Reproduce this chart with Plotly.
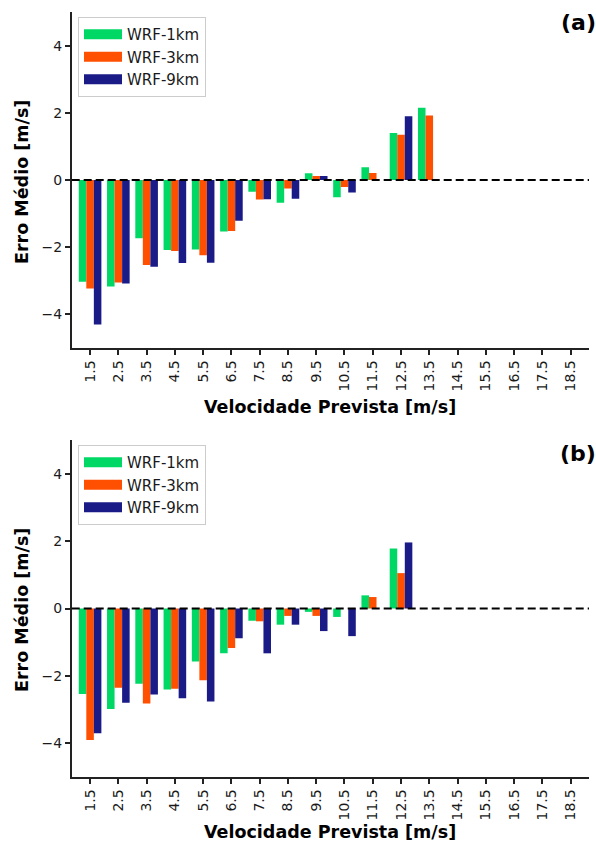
import plotly.graph_objects as go

categories = ["1.5", "2.5", "3.5", "4.5", "5.5", "6.5", "7.5", "8.5", "9.5",
              "10.5", "11.5", "12.5", "13.5", "14.5", "15.5", "16.5", "17.5", "18.5"]
series_names = ["WRF-1km", "WRF-3km", "WRF-9km"]

a_1km = [-3.03, -3.17, -1.73, -2.08, -2.07, -1.53, -0.35, -0.68, 0.20, -0.51, 0.38, 1.40, 2.15,
         None, None, None, None, None]
a_3km = [-3.23, -3.05, -2.53, -2.11, -2.24, -1.52, -0.58, -0.25, 0.12, -0.21, 0.21, 1.35, 1.92,
         None, None, None, None, None]
a_9km = [-4.30, -3.08, -2.58, -2.47, -2.46, -1.21, -0.57, -0.56, 0.12, -0.37, None, 1.90, None,
         None, None, None, None, None]

b_1km = [-2.54, -2.98, -2.23, -2.40, -1.57, -1.33, -0.36, -0.48, -0.10, -0.25, 0.39, 1.78, None,
         None, None, None, None, None]
b_3km = [-3.90, -2.35, -2.82, -2.38, -2.13, -1.17, -0.38, -0.22, -0.22, None, 0.34, 1.05, None,
         None, None, None, None, None]
b_9km = [-3.70, -2.80, -2.55, -2.66, -2.76, -0.88, -1.33, -0.48, -0.67, -0.82, None, 1.96, None,
         None, None, None, None, None]

y_tickvals = [-4, -2, 0, 2, 4]
y_ticktext = ["\u22124", "\u22122", "0", "2", "4"]
colors = ["#00D865", "#FF4F00", "#1B1B87"]

W, H = 596, 845
FONT = "DejaVu Sans"
TXT = "#1a1a1a"

fig = go.Figure()

panels = [
    ("x", "y", "legend", [a_1km, a_3km, a_9km]),
    ("x2", "y2", "legend2", [b_1km, b_3km, b_9km]),
]
for xa, ya, lg, data in panels:
    for name, vals, col in zip(series_names, data, colors):
        fig.add_trace(go.Bar(x=categories, y=vals, name=name, marker=dict(color=col, line=dict(width=0)),
                             xaxis=xa, yaxis=ya, showlegend=False))
    for name, col in zip(series_names, colors):
        fig.add_trace(go.Scatter(x=[None], y=[None], mode="lines", name=name,
                                 line=dict(color=col, width=10), xaxis=xa, yaxis=ya,
                                 legend=lg, showlegend=True))

x0, x1 = 71.7 / W, 589 / W
dom_a = [1 - 348 / H, 1 - 12 / H]
dom_b = [1 - 777 / H, 1 - 440 / H]

xcommon = dict(type="category", range=[-0.65, 17.65], showline=True, linecolor="#222", linewidth=1.5,
               ticks="outside", ticklen=5, tickwidth=1.5, tickcolor="#222", tickangle=-90,
               showgrid=False, zeroline=False, tickfont=dict(family=FONT, size=14, color=TXT),
               domain=[x0, x1], automargin=False)
ycommon = dict(range=[-5, 5], tickvals=y_tickvals, ticktext=y_ticktext, showline=True, linecolor="#222",
               linewidth=1.5, ticks="outside", ticklen=5, tickwidth=1.5, tickcolor="#222",
               showgrid=False, zeroline=False, tickfont=dict(family=FONT, size=14, color=TXT),
               automargin=False)

legcommon = dict(x=78 / W, xanchor="left", yanchor="top", bgcolor="rgba(255,255,255,0.9)",
                 bordercolor="#cccccc", borderwidth=1, font=dict(family=FONT, size=15, color=TXT),
                 itemwidth=38, tracegroupgap=0)

fig.update_layout(
    width=W, height=H, margin=dict(l=0, r=0, t=0, b=0),
    paper_bgcolor="white", plot_bgcolor="white",
    barmode="group", bargap=0.2, bargroupgap=0,
    xaxis=dict(xcommon, anchor="y"),
    yaxis=dict(ycommon, domain=dom_a, anchor="x"),
    xaxis2=dict(xcommon, anchor="y2"),
    yaxis2=dict(ycommon, domain=dom_b, anchor="x2"),
    legend=dict(legcommon, y=1 - 17 / H),
    legend2=dict(legcommon, y=1 - 445 / H),
    font=dict(family=FONT, color=TXT),
)

for ya in ["y", "y2"]:
    fig.add_shape(type="line", xref=("x domain" if ya == "y" else "x2 domain"), yref=ya,
                  x0=0, x1=1, y0=0, y1=0, line=dict(color="black", width=2, dash="8px,4px"),
                  layer="above")

annots = [
    dict(text="<b>Velocidade Prevista [m/s]</b>", x=(x0 + x1) / 2, y=1 - 407 / H, size=17.5, angle=0),
    dict(text="<b>Velocidade Prevista [m/s]</b>", x=(x0 + x1) / 2, y=1 - 832 / H, size=17.5, angle=0),
    dict(text="<b>Erro Médio [m/s]</b>", x=22 / W, y=1 - 182 / H, size=17.5, angle=-90),
    dict(text="<b>Erro Médio [m/s]</b>", x=22 / W, y=1 - 610 / H, size=17.5, angle=-90),
    dict(text="<b>(a)</b>", x=578 / W, y=1 - 22 / H, size=22, angle=0),
    dict(text="<b>(b)</b>", x=578 / W, y=1 - 453 / H, size=22, angle=0),
]
for a in annots:
    fig.add_annotation(text=a["text"], x=a["x"], y=a["y"], xref="paper", yref="paper",
                       xanchor="center", yanchor="middle", showarrow=False, textangle=a["angle"],
                       font=dict(family=FONT, size=a["size"], color="black"))

fig.write_html("out.html")
